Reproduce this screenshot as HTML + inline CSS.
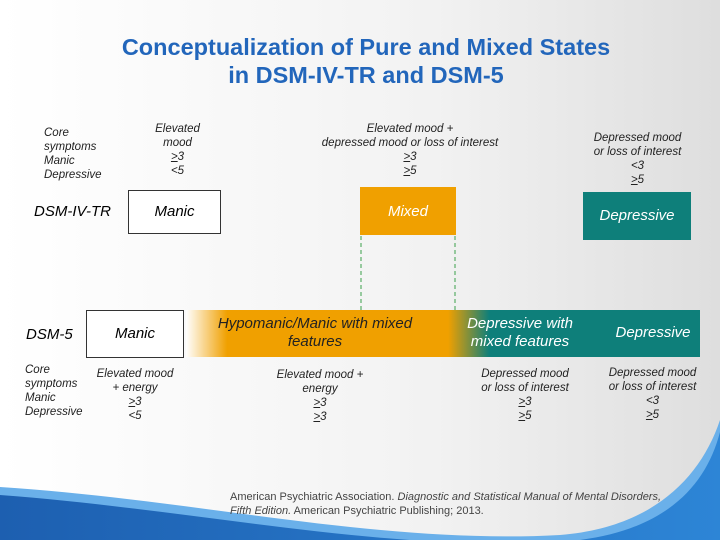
<!DOCTYPE html>
<html><head><meta charset="utf-8"><style>
body{margin:0}
#s{position:relative;width:720px;height:540px;overflow:hidden;background:linear-gradient(90deg,#fff 0%,#f2f2f2 60%,#dedede 100%);font-family:"Liberation Sans",sans-serif}
.a{position:absolute}
.i{font-style:italic}
.c{text-align:center}
.sm{font-size:11.5px;line-height:14px;color:#222}
.box{position:absolute;display:flex;align-items:center;justify-content:center;font-style:italic;font-size:15px;text-align:center;line-height:18px}
</style></head><body>
<div id="s">
<svg class="a" style="left:0;top:0" width="720" height="540">
<defs><linearGradient id="bl" x1="0" x2="1"><stop offset="0" stop-color="#1d5fb0"/><stop offset="1" stop-color="#2d85d6"/></linearGradient></defs>
<path d="M0,487 C200,500 380,545 560,535 C650,528 700,480 720,420 L720,540 L0,540Z" fill="#6ab0ea"/>
<path d="M0,495 C200,510 380,552 560,542 C660,535 705,490 720,432 L720,540 L0,540Z" fill="url(#bl)"/>
<line x1="361" y1="236" x2="361" y2="310" stroke="#3aa04a" stroke-dasharray="4,3"/>
<line x1="455" y1="236" x2="455" y2="310" stroke="#3aa04a" stroke-dasharray="4,3"/>
</svg>
<div class="a c" style="left:0;width:732px;top:33px;font-size:23.5px;line-height:28px;font-weight:bold;color:#2266bb">Conceptualization of Pure and Mixed States<br>in DSM-IV-TR and DSM-5</div>
<div class="a i sm" style="left:44px;top:126px">Core<br>symptoms<br>Manic<br>Depressive</div>
<div class="a i sm c" style="left:130px;width:95px;top:122px">Elevated<br>mood<br><u>&gt;</u>3<br>&lt;5</div>
<div class="a i sm c" style="left:290px;width:240px;top:122px">Elevated mood +<br>depressed mood or loss of interest<br><u>&gt;</u>3<br><u>&gt;</u>5</div>
<div class="a i sm c" style="left:570px;width:135px;top:131px">Depressed mood<br>or loss of interest<br>&lt;3<br><u>&gt;</u>5</div>
<div class="a i" style="left:34px;top:203px;font-size:15px">DSM-IV-TR</div>
<div class="box" style="left:128px;top:190px;width:91px;height:42px;background:#fff;border:1px solid #333">Manic</div>
<div class="box" style="left:360px;top:187px;width:96px;height:48px;background:#f0a000;color:#fff;align-items:flex-start;padding-top:16px;box-sizing:border-box">Mixed</div>
<div class="box" style="left:583px;top:192px;width:108px;height:48px;background:#0e7f7a;color:#fff">Depressive</div>
<div class="a i" style="left:26px;top:326px;font-size:15px">DSM-5</div>
<div class="a" style="left:186px;top:310px;width:514px;height:47px;background:linear-gradient(90deg,#fff 0%,#f0a000 8%,#f0a000 51%,#0e7f7a 59%,#0e7f7a 100%)"></div>
<div class="box" style="left:86px;top:310px;width:96px;height:46px;background:#fff;border:1px solid #333">Manic</div>
<div class="box" style="left:195px;top:312px;width:240px;height:42px;color:#222">Hypomanic/Manic with mixed<br>features</div>
<div class="box" style="left:455px;top:312px;width:130px;height:42px;color:#fff">Depressive with<br>mixed features</div>
<div class="box" style="left:598px;top:312px;width:110px;height:42px;color:#fff">Depressive</div>
<div class="a i sm" style="left:25px;top:363px">Core<br>symptoms<br>Manic<br>Depressive</div>
<div class="a i sm c" style="left:85px;width:100px;top:367px">Elevated mood<br>+ energy<br><u>&gt;</u>3<br>&lt;5</div>
<div class="a i sm c" style="left:255px;width:130px;top:368px">Elevated mood +<br>energy<br><u>&gt;</u>3<br><u>&gt;</u>3</div>
<div class="a i sm c" style="left:460px;width:130px;top:367px">Depressed mood<br>or loss of interest<br><u>&gt;</u>3<br><u>&gt;</u>5</div>
<div class="a i sm c" style="left:595px;width:115px;top:366px">Depressed mood<br>or loss of interest<br>&lt;3<br><u>&gt;</u>5</div>
<div class="a" style="left:230px;top:490px;font-size:11px;line-height:14px;color:#444;width:440px">American Psychiatric Association. <i>Diagnostic and Statistical Manual of Mental Disorders, Fifth Edition.</i> American Psychiatric Publishing; 2013.</div>
</div>
</body></html>
